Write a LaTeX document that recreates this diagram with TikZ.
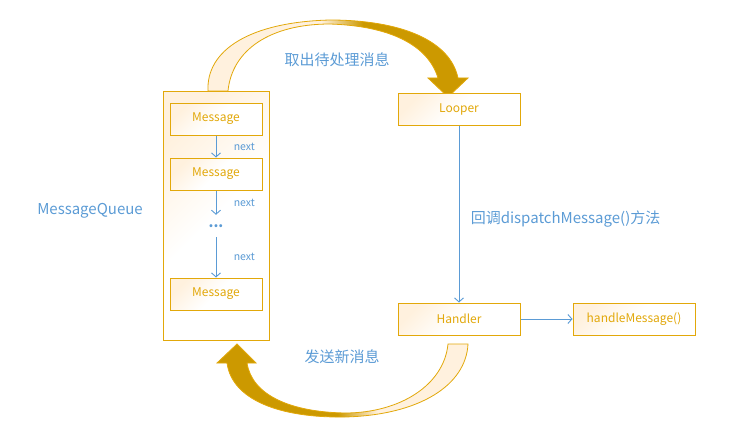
\documentclass[tikz,border=0pt]{standalone}
\usepackage{fontspec}
\setmainfont{Noto Sans CJK SC}
\usetikzlibrary{arrows.meta}
\definecolor{boxgold}{RGB}{226,168,10}
\definecolor{arrowgold}{RGB}{204,153,0}
\definecolor{paleorange}{RGB}{255,241,222}
\definecolor{msgblue}{RGB}{91,155,213}
\pgfdeclarehorizontalshading{bendfwd}{100bp}{color(0bp)=(paleorange); color(47bp)=(paleorange); color(55bp)=(arrowgold); color(100bp)=(arrowgold)}
\pgfdeclarehorizontalshading{bendback}{100bp}{color(0bp)=(arrowgold); color(49bp)=(arrowgold); color(57bp)=(paleorange); color(100bp)=(paleorange)}
\tikzset{
  box/.style={draw=boxgold, line width=1pt, top color=paleorange, bottom color=white,
    middle color=white, shading angle=45, text=boxgold, font=\fontsize{12}{14}\selectfont,
    minimum width=122pt, minimum height=32pt, inner sep=0pt},
  msg/.style={box, minimum width=92pt},
  queue/.style={box, minimum width=106pt, minimum height=249pt},
  lbl/.style={text=msgblue, font=\fontsize{15}{18}\selectfont},
  nextlbl/.style={right=14pt, text=msgblue, font=\fontsize{10.5}{12}\selectfont},
  flow/.style={draw=msgblue, line width=0.9pt, -{Straight Barb[length=4pt,width=9pt]}},
  bend arrow/.style={draw=boxgold, line width=0.8pt, shade, shading=#1}
}
\begin{document}
\begin{tikzpicture}[x=1pt,y=-1pt]
\useasboundingbox (0,0) rectangle (747,436);
\draw[bend arrow=bendfwd] (208,91) .. controls (206,50) and (250,22) .. (330,20)
  .. controls (400,20) and (450,40) .. (458,78) -- (468,78) -- (448,97) -- (428,78) -- (438,78)
  .. controls (428,45) and (390,26) .. (330,24) .. controls (270,24) and (232,50) .. (228,91) -- cycle;
\draw[bend arrow=bendback] (468,344) .. controls (466,385) and (420,415) .. (345,417)
  .. controls (280,418) and (232,400) .. (227,363) -- (217,363) -- (237,344) -- (256,363) -- (247,363)
  .. controls (252,395) and (290,412) .. (345,413) .. controls (400,413) and (444,385) .. (448,344) -- cycle;
\node[queue] (queue) at (216,215.5) {};
\node[msg] (msg1) at (216,119) {Message};
\node[msg] (msg2) at (216,174) {Message};
\node[text=msgblue, font=\fontsize{14}{16}\bfseries, minimum height=22pt, inner sep=0pt] (gap) at (216,226) {...};
\node[msg] (msg3) at (216,294) {Message};
\node[box] (looper) at (459,109) {Looper};
\node[box] (handler) at (459,319) {Handler};
\node[box] (handle) at (634,319) {handleMessage()};
\node[lbl] (mq) at (90,211) {MessageQueue};
\node[lbl] (fetch) at (337,60) {取出待处理消息};
\node[lbl] (send) at (342,357) {发送新消息};
\draw[flow] (msg1) -- node[nextlbl] {next} (msg2);
\draw[flow] (msg2) -- node[nextlbl] {next} (gap);
\draw[flow] (gap) -- node[nextlbl] {next} (msg3);
\draw[flow] (looper) -- node[lbl, right=8pt, pos=0.53] (dispatch) {回调dispatchMessage()方法} (handler);
\draw[flow] (handler) -- (handle);
\end{tikzpicture}
\end{document}
